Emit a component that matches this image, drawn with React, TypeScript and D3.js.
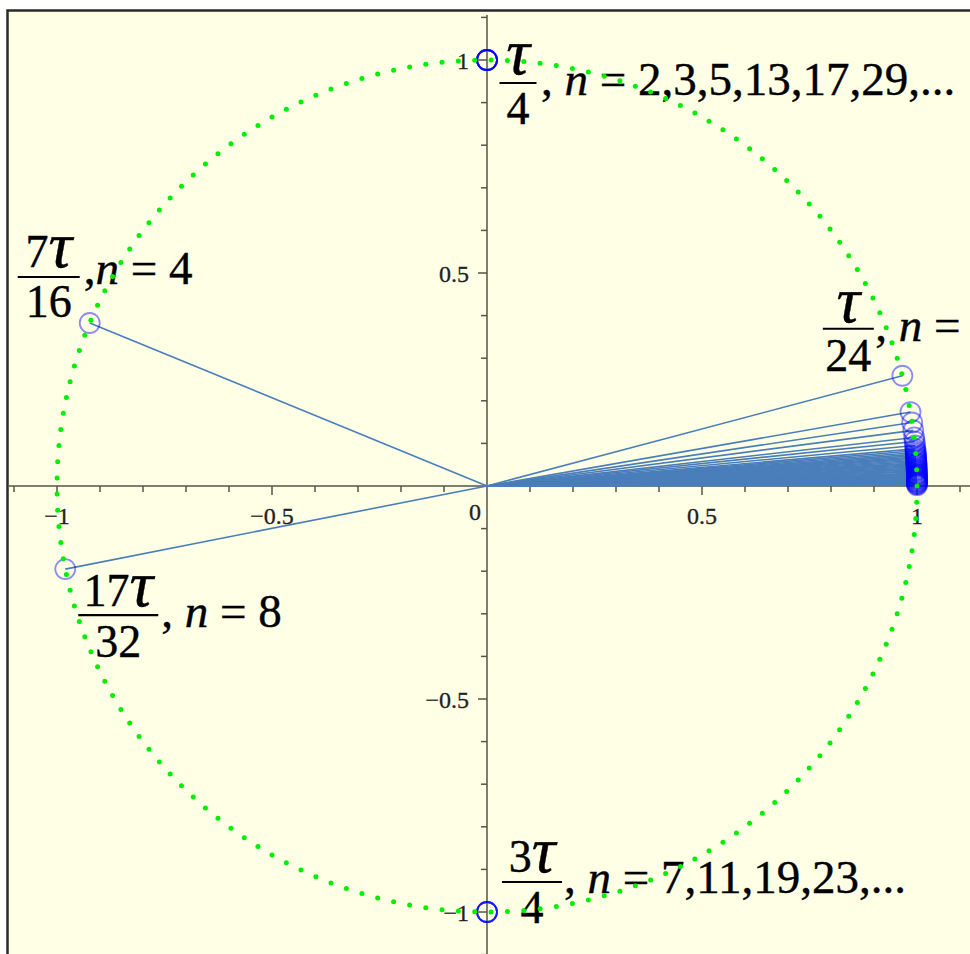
import React from "react";
import * as d3 from "d3";

// ---------- data ----------
const dotCount = 165; // green dotted unit circle
const labeledNum = [1, 3, 7, 17, 1];
const labeledDen = [4, 4, 16, 32, 24];
const labeledNText = ["2,3,5,13,17,29,...", "7,11,19,23,...", "4", "8", ""];
const labeledCount = [6, 4, 1, 1, 1];
const labeledRay = [false, false, true, true, true];
// remaining points, angle = tau / d
const clusterDen = [
  36, 42, 48, 55, 60, 66, 72, 76, 80, 84, 88, 92, 96, 100, 105, 110, 116, 120, 126, 132,
  140, 150, 160, 168, 180, 192, 210, 224, 240, 252, 280, 300, 336, 360, 420, 480, 560,
  672, 840, 1120, 1680, 3360,
];
const xTicks = d3.range(-11, 12).map((v) => v / 10);
const yTicks = d3.range(-11, 12).map((v) => v / 10);
const xTickLabels = [-1, -0.5, 0.5, 1];
const yTickLabels = [-1, -0.5, 0.5, 1];

// ---------- layout ----------
const W = 970;
const H = 954;
const TAU = Math.PI * 2;
const FONT = "Liberation Serif";
// label offsets relative to the point (px)
const labelLayout = [
  { fx: 31, bar: 23, bw: 37, nb: 14, db: 64, rx: 54, ry: 35, comma: ", " },
  { fx: 45, bar: -30, bw: 60, nb: -40, db: 11, rx: 77, ry: -19, comma: ", " },
  { fx: -41, bar: -46, bw: 62, nb: -56, db: -6, rx: -6, ry: -39, comma: "," },
  { fx: 53, bar: 46, bw: 80, nb: 37, db: 88, rx: 96, ry: 58, comma: ", " },
  { fx: -54, bar: -47, bw: 51, nb: -54, db: -5, rx: -27, ry: -35, comma: ", " },
];

const fmt = (v: number) => (v < 0 ? "\u2212" + String(Math.abs(v)) : String(v));

export default function App() {
  const x = d3.scaleLinear().domain([-1, 1]).range([57, 917]);
  const y = d3.scaleLinear().domain([-1, 1]).range([912, 60]);
  const ox = x(0);
  const oy = y(0);

  type P = { a: number; ray: boolean };
  const pts: P[] = [];
  labeledNum.forEach((n, i) => {
    for (let k = 0; k < labeledCount[i]; k++) pts.push({ a: (TAU * n) / labeledDen[i], ray: labeledRay[i] });
  });
  clusterDen.forEach((d) => pts.push({ a: TAU / d, ray: true }));

  const dots = d3.range(dotCount).map((k) => (TAU * k) / dotCount);

  return (
    <svg
      width={W}
      height={H}
      style={{ position: "absolute", left: 0, top: 0, background: "#ffffff" }}
      fontFamily={FONT}
    >
      <rect x={7.5} y={10.5} width={W + 20} height={H + 20} fill="#ffffe6" stroke="#2a2a2a" strokeWidth={2.5} />

      {/* axes */}
      <g stroke="#555548" strokeWidth={1.5}>
        <line x1={9} x2={W} y1={oy} y2={oy} />
        <line x1={ox} x2={ox} y1={15} y2={H} />
        {xTicks.map((t) =>
          Math.abs(t) < 1e-9 ? null : (
            <line key={"xt" + t} x1={x(t)} x2={x(t)} y1={oy} y2={oy + (Math.abs(Math.round(t * 10)) % 5 === 0 ? 9 : 6)} />
          )
        )}
        {yTicks.map((t) =>
          Math.abs(t) < 1e-9 ? null : (
            <line key={"yt" + t} y1={y(t)} y2={y(t)} x1={ox} x2={ox - (Math.abs(Math.round(t * 10)) % 5 === 0 ? 9 : 6)} />
          )
        )}
      </g>
      <g fontSize={24} fill="#222" stroke="#222" strokeWidth={0.3} fontFamily={FONT}>
        {xTickLabels.map((t) => (
          <text key={"xl" + t} x={x(t)} y={oy + 38} textAnchor="middle" fontFamily={FONT}>
            {fmt(t)}
          </text>
        ))}
        {yTickLabels.map((t) => (
          <text key={"yl" + t} x={ox - 18} y={y(t) + 9} textAnchor="end" fontFamily={FONT}>
            {fmt(t)}
          </text>
        ))}
        <text x={ox - 12} y={oy + 34} textAnchor="middle" fontFamily={FONT}>0</text>
      </g>

      {/* rays */}
      <g stroke="#4a7ebb" strokeWidth={1.6}>
        {pts
          .filter((p) => p.ray)
          .map((p, i) => (
            <line key={"r" + i} x1={ox} y1={oy} x2={x(Math.cos(p.a))} y2={y(Math.sin(p.a))} />
          ))}
      </g>

      {/* point circles */}
      <g fill="none" stroke="#0000ff" strokeOpacity={0.45} strokeWidth={1.8}>
        {pts.map((p, i) => (
          <circle key={"c" + i} cx={x(Math.cos(p.a))} cy={y(Math.sin(p.a))} r={10} />
        ))}
      </g>

      {/* labels */}
      <g fill="#000" stroke="#000" strokeWidth={0.4}>
        {labeledNum.map((n, i) => {
          const L = labelLayout[i];
          const px = x(Math.cos((TAU * n) / labeledDen[i]));
          const py = y(Math.sin((TAU * n) / labeledDen[i]));
          const cx = px + L.fx;
          return (
            <g key={"lab" + i}>
              <text x={cx} y={py + L.nb} textAnchor="middle" fontFamily={FONT}>
                {n !== 1 && <tspan fontSize={46}>{n}</tspan>}
                <tspan fontSize={66} fontStyle="italic">τ</tspan>
              </text>
              <line x1={cx - L.bw / 2} x2={cx + L.bw / 2} y1={py + L.bar} y2={py + L.bar} stroke="#000" strokeWidth={2.2} />
              <text x={cx} y={py + L.db} textAnchor="middle" fontSize={46} fontFamily={FONT}>
                {labeledDen[i]}
              </text>
              <text x={px + L.rx} y={py + L.ry} fontSize={47} fontFamily={FONT}>
                <tspan>{L.comma}</tspan>
                <tspan fontStyle="italic">n</tspan>
                <tspan>{" = " + labeledNText[i]}</tspan>
              </text>
            </g>
          );
        })}
      </g>

      {/* green dotted unit circle */}
      <g fill="#00ee00">
        {dots.map((a, i) => (
          <circle key={"d" + i} cx={x(Math.cos(a))} cy={y(Math.sin(a))} r={2.5} />
        ))}
      </g>
    </svg>
  );
}
